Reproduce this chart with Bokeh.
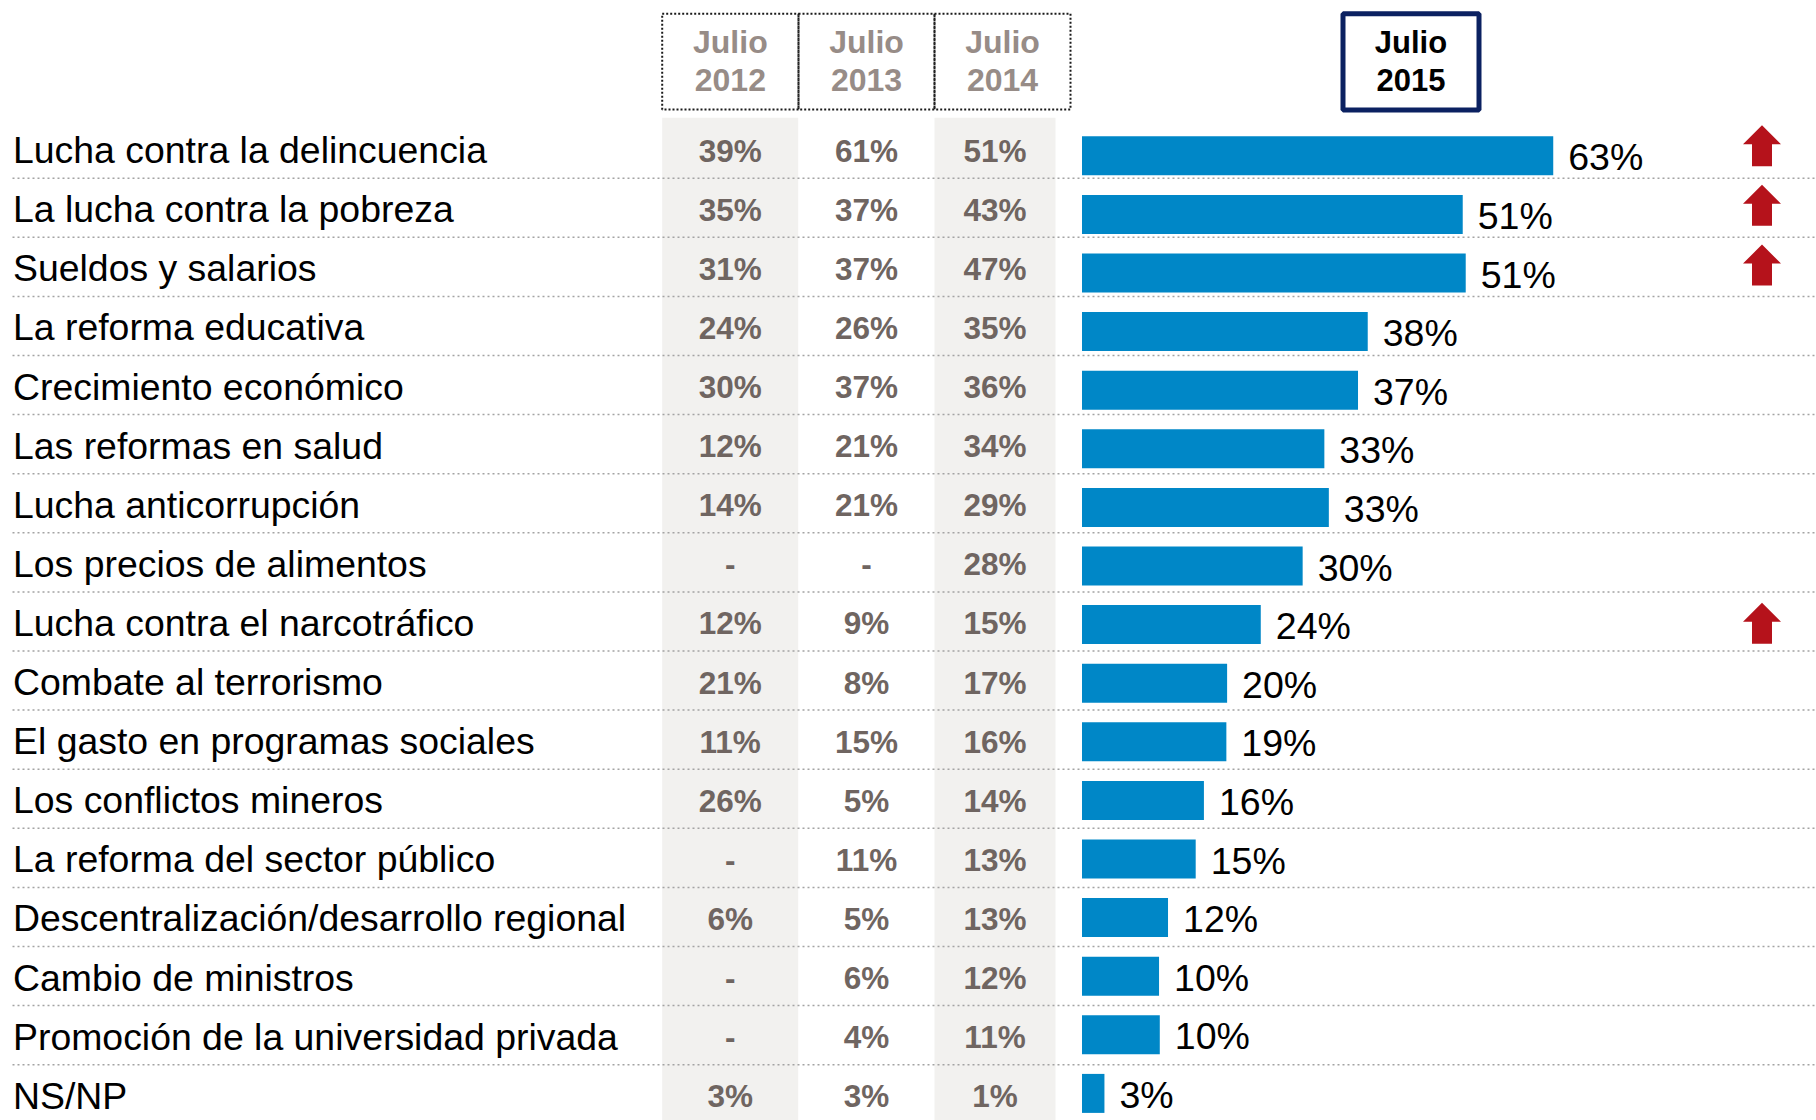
from bokeh.plotting import figure
from bokeh.models import Range1d, ColumnDataSource
from bokeh.core.properties import value
from bokeh.embed import file_html
from bokeh.resources import INLINE

# ---------------- data ----------------
categories = [
    "Lucha contra la delincuencia",
    "La lucha contra la pobreza",
    "Sueldos y salarios",
    "La reforma educativa",
    "Crecimiento económico",
    "Las reformas en salud",
    "Lucha anticorrupción",
    "Los precios de alimentos",
    "Lucha contra el narcotráfico",
    "Combate al terrorismo",
    "El gasto en programas sociales",
    "Los conflictos mineros",
    "La reforma del sector público",
    "Descentralización/desarrollo regional",
    "Cambio de ministros",
    "Promoción de la universidad privada",
    "NS/NP",
]
julio_2012 = [39, 35, 31, 24, 30, 12, 14, None, 12, 21, 11, 26, None, 6, None, None, 3]
julio_2013 = [61, 37, 37, 26, 37, 21, 21, None, 9, 8, 15, 5, 11, 5, 6, 4, 3]
julio_2014 = [51, 43, 47, 35, 36, 34, 29, 28, 15, 17, 16, 14, 13, 13, 12, 11, 1]
# 2015: printed (rounded) labels and bar lengths
julio_2015_labels = [63, 51, 51, 38, 37, 33, 33, 30, 24, 20, 19, 16, 15, 12, 10, 10, 3]
julio_2015_bars = [63.0, 50.9, 51.3, 38.2, 36.9, 32.4, 33.0, 29.5, 23.9, 19.4, 19.3,
                   16.3, 15.2, 11.5, 10.3, 10.4, 3.0]
trend_up = [True, True, True, False, False, False, False, False, True,
            False, False, False, False, False, False, False, False]
hist_headers = [("Julio", "2012"), ("Julio", "2013"), ("Julio", "2014")]
current_header = ("Julio", "2015")

# ---------------- layout helpers ----------------
PAD = 0
W, H = 1816, 1120
X0, SX = 1081.5, 7.48      # page px of 0 %, px per %
Y0, SY = 148.15, 59.1      # page px of first row centre, px per row
TSHIFT = -12.5             # text baseline correction (px)


def dx(page_x):
    return (page_x - X0) / SX


def dy(page_y):
    return (page_y - Y0) / SY


FONT = value("Liberation Sans")
BLUE = "#0087c7"
RED = "#b5121b"
NUM_COL = "#6f6561"
HEAD_COL = "#978c87"
GRAY_FILL = "#f2f1ef"

p = figure(width=W, height=H,
           x_range=Range1d(dx(PAD), dx(PAD + W)),
           y_range=Range1d(dy(PAD + H), dy(PAD)),
           output_backend="svg", toolbar_location=None,
           x_axis_location=None, y_axis_location=None,
           min_border=0, outline_line_color=None)
p.grid.grid_line_color = None
p.background_fill_color = "white"
p.border_fill_color = "white"

n = len(categories)
rows = list(range(n))

# shaded columns (2012 and 2014)
p.quad(left=[dx(661.7), dx(934)], right=[dx(797.7), dx(1055)],
       top=[dy(117.3)] * 2, bottom=[dy(1130)] * 2,
       fill_color=GRAY_FILL, line_color=None)

# dotted row separators
sep_y = [r + 0.5 for r in rows[:-1]]
p.segment(x0=[dx(12)] * len(sep_y), x1=[dx(1820)] * len(sep_y), y0=sep_y, y1=sep_y,
          line_color="#a3a3a3", line_width=1.5, line_dash="2 3")

# header boxes for historical columns
col_edges = [661.7, 798, 934, 1070]
p.quad(left=[dx(e) for e in col_edges[:-1]], right=[dx(e) for e in col_edges[1:]],
       top=[dy(13.3)] * 3, bottom=[dy(109)] * 3,
       fill_color=None, line_color="#1a1a1a", line_width=2, line_dash="2 2")
head_cx = [(col_edges[k] + col_edges[k + 1]) / 2 for k in range(3)]
p.text(x=[dx(c) for c in head_cx], y=[dy(54.3 + TSHIFT)] * 3, text=[h[0] for h in hist_headers],
       text_font=FONT, text_font_size="32px", text_font_style="bold",
       text_color=HEAD_COL, text_align="center", text_baseline="alphabetic")
p.text(x=[dx(c) for c in head_cx], y=[dy(91.7 + TSHIFT)] * 3, text=[h[1] for h in hist_headers],
       text_font=FONT, text_font_size="32px", text_font_style="bold",
       text_color=HEAD_COL, text_align="center", text_baseline="alphabetic")

# header box for 2015
p.quad(left=[dx(1342.5)], right=[dx(1478.5)], top=[dy(13.2)], bottom=[dy(109.5)],
       fill_color=None, line_color="#0b2161", line_width=5)
p.text(x=[dx(1410.5)] * 2, y=[dy(54.3 + TSHIFT), dy(91.7 + TSHIFT)], text=list(current_header),
       text_font=FONT, text_font_size="31px", text_font_style="bold",
       text_color="black", text_align="center", text_baseline="alphabetic")

# category labels
p.text(x=[dx(12.5)] * n, y=[r + (14 + TSHIFT) / SY for r in rows], text=categories,
       text_font=FONT, text_font_size="37.4px", text_color="black",
       text_align="left", text_baseline="alphabetic")

# historical values
num_cx = [729.7, 866, 994.5]
for cx, series in zip(num_cx, [julio_2012, julio_2013, julio_2014]):
    labels = ["-" if v is None else f"{v}%" for v in series]
    p.text(x=[dx(cx)] * n, y=[r + (14.5 + TSHIFT) / SY for r in rows], text=labels,
           text_font=FONT, text_font_size="31.5px", text_font_style="bold",
           text_color=NUM_COL, text_align="center", text_baseline="alphabetic")

# 2015 bars
bar_y = [r + (7.15 - 0.5 * r) / SY for r in rows]
src = ColumnDataSource(dict(y=bar_y, v=julio_2015_bars,
                            lx=[v + 15 / SX for v in julio_2015_bars],
                            ly=[b + (14 + TSHIFT) / SY for b in bar_y],
                            lab=[f"{v}%" for v in julio_2015_labels]))
p.hbar(y="y", left=0, right="v", height=39 / SY, source=src,
       fill_color=BLUE, line_color=None)
p.text(x="lx", y="ly", text="lab", source=src,
       text_font=FONT, text_font_size="37.5px", text_color="black",
       text_align="left", text_baseline="alphabetic")

# trend arrows
shape = [(0, -20.5), (19, -1.5), (10, -1.5), (10, 20.5), (-10, 20.5), (-10, -1.5), (-19, -1.5)]
xs, ys = [], []
for r, up in zip(rows, trend_up):
    if up:
        cy = Y0 + SY * r - 3 + 0.6 * r
        xs.append([dx(1761.5 + ax) for ax, ay in shape])
        ys.append([dy(cy + ay) for ax, ay in shape])
p.patches(xs=xs, ys=ys, fill_color=RED, line_color=None)

open("out.html", "w").write(file_html(p, INLINE))
